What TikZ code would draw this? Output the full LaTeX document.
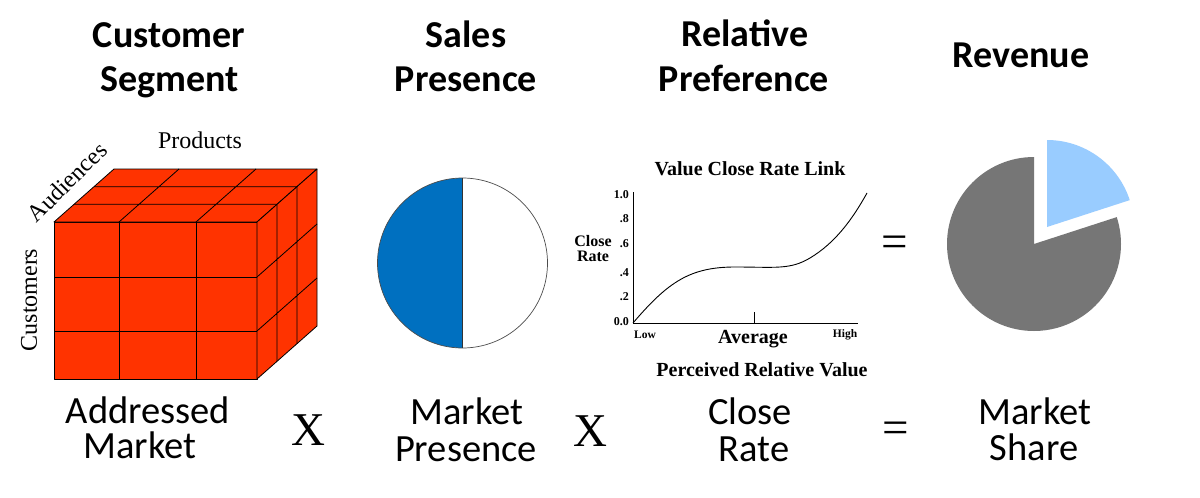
\documentclass[tikz,border=0pt]{standalone}
\usepackage{fontspec}
\setmainfont{Carlito}
\newfontfamily\tms{Liberation Serif}
\definecolor{cubered}{RGB}{255,51,0}
\definecolor{presblue}{RGB}{0,112,192}
\definecolor{pielight}{RGB}{153,204,255}
\definecolor{piegray}{RGB}{118,118,118}
\begin{document}
\begin{tikzpicture}[x=1pt,y=-1pt,
  head/.style={font=\bfseries\fontsize{38}{44}\selectfont, anchor=base, inner sep=0pt},
  foot/.style={font=\fontsize{38.5}{44}\selectfont, anchor=base, inner sep=0pt},
  opsym/.style={font=\tms\fontsize{47}{50}\selectfont, inner sep=0pt},
  cubelbl/.style={font=\tms\fontsize{24}{26}\selectfont, inner sep=0pt},
  cubeface/.style={fill=cubered, draw=black, line width=0.8pt, line join=round},
  cubegrid/.style={draw=black, line width=0.8pt},
  charttitle/.style={font=\tms\bfseries\fontsize{20}{22}\selectfont, inner sep=0pt},
  ticklbl/.style={font=\tms\bfseries\fontsize{12}{13}\selectfont, inner sep=0pt, anchor=east},
  axislbl/.style={font=\tms\bfseries\fontsize{16}{17}\selectfont, inner sep=0pt},
  smalllbl/.style={font=\tms\bfseries\fontsize{11.5}{12}\selectfont, inner sep=0pt},
  chartline/.style={draw=black, line width=0.9pt}
]
\useasboundingbox (0,0) rectangle (1200,498);
\fill[white] (0,0) rectangle (1200,498);

% ---------- headers ----------
\node[head] (h1a) at (169,47) {Customer};
\node[head] (h1b) at (170,91) {Segment};
\node[head] (h2a) at (466,47) {Sales};
\node[head] (h2b) at (466,91) {Presence};
\node[head] (h3a) at (745,46) {Relative};
\node[head] (h3b) at (744,91) {Preference};
\node[head] (h4) at (1021,67) {Revenue};

% ---------- cube ----------
\filldraw[cubeface] (54,222) rectangle (257,379);
\filldraw[cubeface] (54,222) -- (114,169) -- (317,169) -- (257,222) -- cycle;
\filldraw[cubeface] (257,222) -- (317,169) -- (317,326) -- (257,379) -- cycle;
\draw[cubegrid] (119,222) -- (119,379) (196,222) -- (196,379)
  (54,277) -- (257,277) (54,331) -- (257,331);
\draw[cubegrid] (74,204.3) -- (277,204.3) (94,186.7) -- (297,186.7)
  (119,222) -- (179,169) (196,222) -- (256,169);
\draw[cubegrid] (277,204.3) -- (277,361.3) (297,186.7) -- (297,343.7)
  (257,277) -- (317,224) (257,331) -- (317,278);
\node[cubelbl, anchor=base] (products) at (200,148) {Products};
\node[cubelbl, rotate=45] (audiences) at (67,182) {Audiences};
\node[cubelbl, rotate=90] (customers) at (29,300) {Customers};

% ---------- presence circle ----------
\fill[presblue] (462.5,348) arc[start angle=90, end angle=270, radius=85] -- cycle;
\draw[draw=black!70, line width=0.7pt] (462.5,263) circle[radius=85];
\draw[draw=black!80, line width=0.8pt] (462.5,178) -- (462.5,348);

% ---------- close rate chart ----------
\node[charttitle, anchor=base] (ctitle) at (750,175) {Value Close Rate Link};
\draw[chartline] (633,192) -- (633,323) -- (858,323);
\draw[chartline] (754,312) -- (754,323);
\node[ticklbl] (t10) at (629,195) {1.0};
\node[ticklbl] (t8) at (629,219) {.8};
\node[ticklbl] (t6) at (629,244) {.6};
\node[ticklbl] (t4) at (629,273) {.4};
\node[ticklbl] (t2) at (629,297) {.2};
\node[ticklbl] (t0) at (629,322) {0.0};
\node[axislbl] (cl1) at (593,241) {Close};
\node[axislbl] (cl2) at (593,256) {Rate};
\node[smalllbl] (low) at (645,335) {Low};
\node[smalllbl] (high) at (845,335) {High};
\node[font=\tms\bfseries\fontsize{20}{22}\selectfont, inner sep=0pt] (avg) at (753,339) {Average};
\node[charttitle, anchor=base] (prv) at (762,376) {Perceived Relative Value};
\draw[chartline] (633,323) .. controls (668,282) and (690,267) .. (735,267)
  .. controls (775,267) and (790,270) .. (810,258)
  .. controls (835,243) and (852,220) .. (867,193);

% ---------- revenue pie ----------
\begin{scope}[shift={(1034,244)}, yscale=-1]
  \fill[piegray] (0,0) -- (90:87) arc[start angle=90, end angle=378, radius=87] -- cycle;
\end{scope}
\begin{scope}[shift={(1047,227)}, yscale=-1]
  \fill[pielight] (0,0) -- (18:87) arc[start angle=18, end angle=90, radius=87] -- cycle;
\end{scope}

% ---------- operators ----------
\node[opsym] (eq1) at (895,247) {=};
\node[opsym] (x1) at (308,430) {X};
\node[opsym] (x2) at (590,431) {X};
\node[opsym] (eq2) at (896,433) {=};

% ---------- footers ----------
\node[foot] (f1a) at (148,423) {Addressed};
\node[foot] (f1b) at (140,458) {Market};
\node[foot] (f2a) at (467,424) {Market};
\node[foot] (f2b) at (466,461) {Presence};
\node[foot] (f3a) at (750,424) {Close};
\node[foot] (f3b) at (754,461) {Rate};
\node[foot] (f4a) at (1035,424) {Market};
\node[foot] (f4b) at (1034,460) {Share};
\end{tikzpicture}
\end{document}
